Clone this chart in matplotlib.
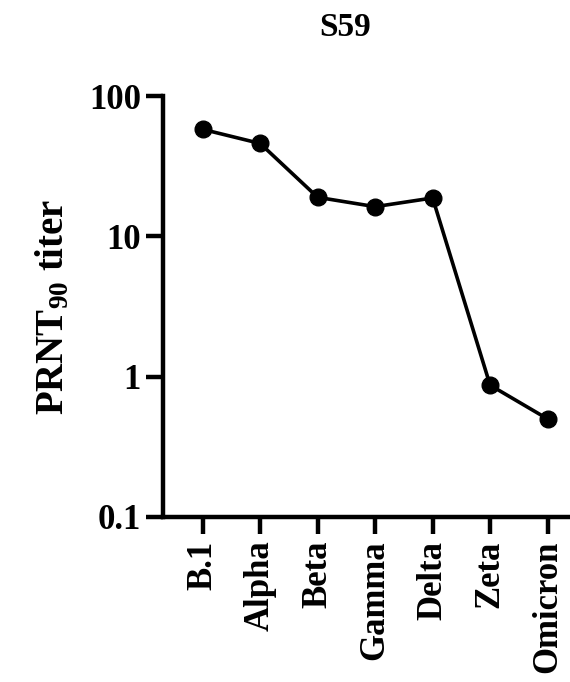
import matplotlib
matplotlib.use("Agg")
import matplotlib.pyplot as plt

# Data
variants = ["B.1", "Alpha", "Beta", "Gamma", "Delta", "Zeta", "Omicron"]
titers = [58, 46, 19, 16.3, 18.8, 0.87, 0.5]
yticks = [0.1, 1, 10, 100]
ytick_labels = ["0.1", "1", "10", "100"]

plt.rcParams["font.family"] = ["Liberation Serif", "DejaVu Serif"]
plt.rcParams["font.weight"] = "bold"
plt.rcParams["mathtext.fontset"] = "custom"
plt.rcParams["mathtext.rm"] = "Liberation Serif:bold"
plt.rcParams["mathtext.bf"] = "Liberation Serif:bold"
plt.rcParams["mathtext.it"] = "Liberation Serif:bold"

fig = plt.figure(figsize=(5.7, 6.82), dpi=100)
ax = fig.add_axes([0.286, 0.242, 0.71, 0.617])

x = list(range(len(variants)))
ax.plot(x, titers, color="black", linewidth=2.6, marker="o", markersize=12,
        clip_on=False, zorder=3)

ax.set_yscale("log")
ax.set_ylim(0.1, 100)
ax.set_xlim(-0.69, 6.35)
ax.set_yticks(yticks)
ax.set_yticklabels(ytick_labels)
ax.minorticks_off()
ax.set_xticks(x)
ax.set_xticklabels(variants, rotation=90)

for s in ["top", "right"]:
    ax.spines[s].set_visible(False)
for s in ["left", "bottom"]:
    ax.spines[s].set_linewidth(3.2)

ax.tick_params(axis="both", width=3.2, length=12, labelsize=25, direction="out")
ax.tick_params(axis="y", pad=4)
ax.tick_params(axis="x", pad=5)

ax.set_ylabel(r"PRNT$_{90}$ titer", fontsize=28, fontweight="bold", labelpad=12)
fig.text(345 / 570, 1 - 27 / 682, "S59", fontsize=24, fontweight="bold",
         ha="center", va="center")

fig.savefig("out.png", dpi=100)
